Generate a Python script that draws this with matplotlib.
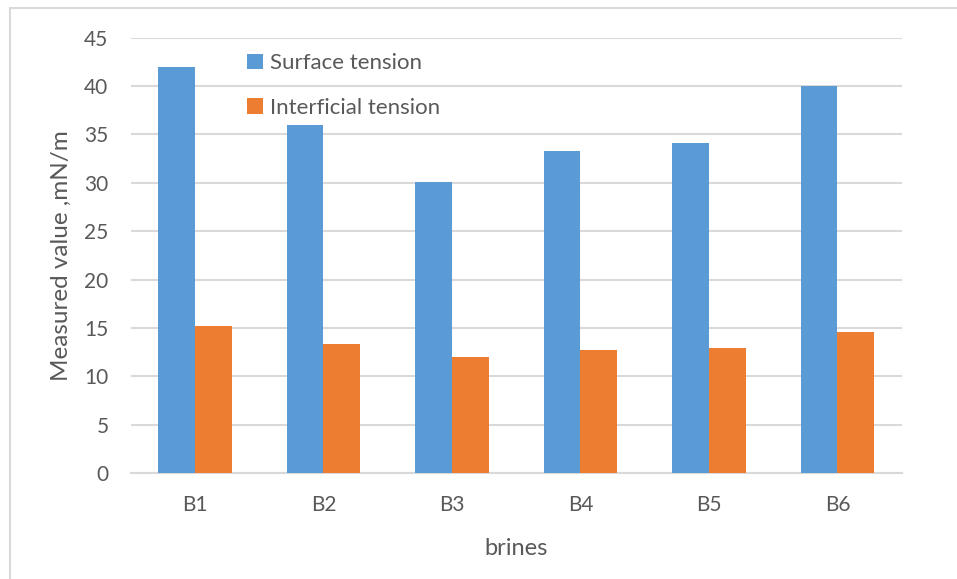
import numpy as np
import matplotlib.pyplot as plt
from matplotlib.patches import Rectangle

brines = ["B1", "B2", "B3", "B4", "B5", "B6"]
surface_tension = [42.0, 36.0, 30.1, 33.3, 34.1, 40.0]
interfacial_tension = [15.2, 13.4, 12.0, 12.7, 12.9, 14.6]
y_ticks = [0, 5, 10, 15, 20, 25, 30, 35, 40, 45]

plt.rcParams['font.family'] = ['Lato', 'DejaVu Sans']
text_color = '#595959'
grid_color = '#d9d9d9'

fig = plt.figure(figsize=(9.57, 5.79), dpi=100)

# light chart-area border
fig.patches.append(Rectangle((10 / 957, -0.1), 1.2, 1 - 8 / 579 + 0.1,
                             transform=fig.transFigure, fill=False,
                             edgecolor='#d9d9d9', linewidth=1.5))

ax = fig.add_axes([0.1366, 0.1826, 0.8056, 0.7523])

x = np.arange(len(brines))
w = 0.285
ax.bar(x - w / 2, surface_tension, w, color='#5B9BD5', label='Surface tension', zorder=3)
ax.bar(x + w / 2, interfacial_tension, w, color='#ED7D31', label='Interficial tension', zorder=3)

ax.set_xlim(-0.5, len(brines) - 0.5)
ax.set_ylim(0, 45)
ax.set_yticks(y_ticks)
ax.set_xticks(x)
ax.set_xticklabels(brines)

ax.yaxis.grid(True, color=grid_color, linewidth=1.5, zorder=0)
for s in ['top', 'right', 'left']:
    ax.spines[s].set_visible(False)
ax.spines['bottom'].set_color(grid_color)
ax.spines['bottom'].set_linewidth(1.5)
ax.tick_params(axis='both', length=0, colors=text_color, labelsize=15)
ax.tick_params(axis='y', pad=16)
ax.tick_params(axis='x', pad=16)

ax.set_ylabel('Measured value ,mN/m', fontsize=17.5, color=text_color, labelpad=9)
ax.set_xlabel('brines', fontsize=17, color=text_color, labelpad=16)

ax.legend(loc='upper left', bbox_to_anchor=(0.125, 1.01), frameon=False,
          fontsize=16, handlelength=0.7, handleheight=0.7, handletextpad=0.35,
          labelspacing=1.1, labelcolor=text_color)

fig.savefig('out.png', dpi=100)
